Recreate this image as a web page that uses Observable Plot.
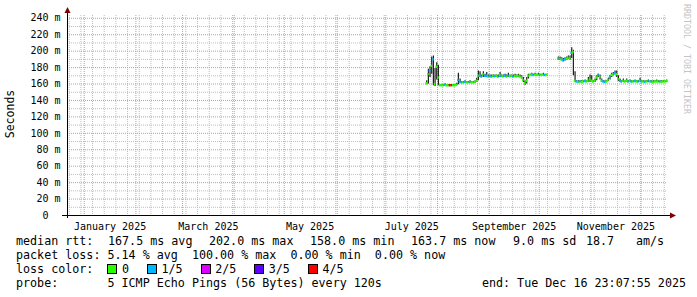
<!DOCTYPE html>
<html><head><meta charset="utf-8">
<script src="https://cdn.jsdelivr.net/npm/d3@7"></script>
<script src="https://cdn.jsdelivr.net/npm/@observablehq/plot@0.6"></script>
<style>
body{margin:0;background:#fff;}
#wrap{position:relative;width:697px;height:297px;overflow:hidden;font-family:"DejaVu Sans Mono",monospace;background:#fff;}
#chart{position:absolute;left:0;top:0;}
#ylab{position:absolute;left:10px;top:114px;transform:translate(-50%,-50%) rotate(-90deg);font-size:11.5px;white-space:nowrap;color:#000;}
#wm{position:absolute;left:682px;top:4px;writing-mode:vertical-rl;font-size:8.3px;color:#c4c4c4;white-space:nowrap;}
#legend{position:absolute;left:16px;top:234px;font-size:11.7px;line-height:14px;white-space:pre;color:#000;width:670px;}
.ln{position:relative;height:14px;}
.it{position:absolute;top:0;}
.box{display:inline-block;width:8px;height:8px;border:1px solid #000;vertical-align:-1px;margin-right:4.5px;}
.lt{margin-right:18px;}
#endt{position:absolute;right:0;top:0;}
</style></head><body><div id="wrap"><div id="chart"></div>
<div id="ylab">Seconds</div>
<div id="wm">RRDTOOL / TOBI OETIKER</div>
<div id="legend"></div>
</div>
<script>
// ---- data ----
const endTime = new Date("2025-12-16T23:07:55Z");
const spanDays = 360;
const yTicks = [0, 20, 40, 60, 80, 100, 120, 140, 160, 180, 200, 220, 240];
const yMinor = [10, 30, 50, 70, 90, 110, 130, 150, 170, 190, 210, 230];
const labelMonths = ["2025-01-01", "2025-03-01", "2025-05-01", "2025-07-01", "2025-09-01", "2025-11-01"];
const lossLabels = ["0", "1/5", "2/5", "3/5", "4/5"];
const lossColors = ["#26ff00", "#00b8ff", "#dd00ff", "#5e00ff", "#ff0000"];

// segment A: daily from 2025-07-25
const segAStart = "2025-07-25";
const segAMedian = [161,172,176,182,190,160,181,168,158.5,158.5,158.5,159,158.5,158.5,158.5,158.5,158.5,158.5,159,165,
  163,162,162,162.5,162,162,162.5,162,162,162.5,164,170,171,169,172,170,170,169,170,169,
  170,169.5,170,169,171,170,169.5,170,169,170,169.5,170,169,170,169.5,170,169,168,165,161,
  164,170,171,171.5,171,171.5,171,171.5,171,171,171.5,171,171];
const segALo = [159,160,168,172,158,157,165,158,157.5,157.5,157.5,158,157.5,157.5,157.5,157.5,157.5,157.5,158,159,
  161,161,161,161,161,161,161,161,161,161,162,164,168,168,168,168,168,168,168,168,
  168,168,168,168,168,168,168,168,168,168,168,168,168,168,168,168,168,166,162,158.5,
  160,166,170,170,170,170,170,170,170,170,170,170,170];
const segAHi = [164,178,181,193,194,179,186,183,159.5,159.5,159.5,160,159.5,159.5,159.5,159.5,159.5,159.5,161,173,
  166,163,163,164,163,163,164,163,163,164,167,176,175,171,175,172,174,171,171,171,
  171,171,171,171,174,171,171,172,171,173,171,171,171,172,171,172,171,170,168,164,
  168,172,172,173,172,173,172,173,172,172,173,172,172];
const segALoss = [0,0,1,0,1,0,0,0,0,0,0,1,0,0,4,4,0,0,0,1,
  1,1,0,1,0,0,1,0,0,0,0,0,1,1,0,1,1,0,1,1,
  0,1,0,1,0,1,0,1,0,1,0,0,1,0,0,0,0,0,0,0,
  0,0,0,0,1,0,0,0,1,0,0,1,0];

// segment B: daily from 2025-10-12
const segBStart = "2025-10-12";
const segBMedian = [191,191,190,189,190,191,192,191,198,199,164,163,162.5,163,162.5,163,163.5,163,164,166,
  164,163,164,168,171,169,164,163,162.5,163,165,168,171,172,173,172,166,164,163,164,
  163,164,163,163.5,163,163,163.5,163,163,164,163,163,162.5,163,163.5,163,163,162.5,163,163,
  163,163,162.5,163,163,163.5];
const segBLo = [189,189,188,187,188,189,190,189,191,170,162,162,161.5,162,161.5,162,162,162,162,162,
  162,162,162,164,168,165,162,162,161.5,162,163,165,168,170,171,168,163,162,162,162,
  162,162,162,162,162,162,162,162,162,162,162,162,161.5,162,162,162,162,161.5,162,162,
  162,162,161.5,162,162,162];
const segBHi = [193,193,192,191,192,193,194,194,204,201,175,164,164,164,164,164,165,164,168,171,
  170,164,166,170,172,171,166,164,164,164,167,170,173,174,176,176,170,166,164,166,
  164,166,164,165,164,164,165,164,164,167,164,164,164,164,165,164,164,164,164,165,
  164,164,164,164,164,165];
const segBLoss = [0,1,0,1,1,0,0,0,1,0,0,1,0,1,0,0,1,0,0,0,
  0,0,0,0,1,0,0,1,1,0,0,1,0,0,1,0,0,1,1,0,
  0,0,1,0,1,0,1,0,1,0,1,0,1,0,1,0,1,0,0,0,
  0,1,0,0,0,0];

// legend texts
const legendLine1 = ["median rtt:", "167.5 ms avg", "202.0 ms max", "158.0 ms min", "163.7 ms now", "9.0 ms sd", "18.7", "am/s"];
const legendLine1Pos = [0, 92, 193, 294, 395, 497, 570, 620];
const legendLine2 = "packet loss: 5.14 % avg  100.00 % max  0.00 % min  0.00 % now";
const legendLine3 = "loss color:  ";
const legendLine4 = "probe:       5 ICMP Echo Pings (56 Bytes) every 120s";
const legendEnd = "end: Tue Dec 16 23:07:55 2025";

// ---- build ----
function rows(start, med, lo, hi, loss) {
  const s = new Date(start + "T00:00:00Z");
  return med.map((m, i) => {
    const t0 = d3.utcDay.offset(s, i), t1 = d3.utcDay.offset(s, i + 1);
    return {t0, t1, tm: new Date((+t0 + +t1) / 2), med: m, lo: lo[i], hi: hi[i], loss: loss[i]};
  });
}
const data = rows(segAStart, segAMedian, segALo, segAHi, segALoss)
  .concat(rows(segBStart, segBMedian, segBLo, segBHi, segBLoss));

const startTime = d3.utcDay.offset(endTime, -spanDays);
const months = d3.utcMonth.range(startTime, endTime);
const weeks = d3.utcMonday.range(startTime, endTime);
const mids = labelMonths.map(s => { const a = new Date(s + "T00:00:00Z"); const b = d3.utcMonth.offset(a, 1); return new Date((+a + +b) / 2); });
const monthFmt = d3.utcFormat("%B %Y");
const labelByMid = new Map(mids.map((m, i) => [+m, monthFmt(new Date(labelMonths[i] + "T00:00:00Z"))]));

const minorStyle = {stroke: "#bdbdbd", strokeDasharray: "1,1"};
const majorStyle = {stroke: "#ee8a8a", strokeDasharray: "1,1"};

const plot = Plot.plot({
  width: 697, height: 232,
  marginLeft: 67, marginRight: 30, marginTop: 15, marginBottom: 17,
  style: {fontFamily: "'DejaVu Sans Mono', monospace", fontSize: "10px", color: "#000", background: "transparent", overflow: "visible"},
  x: {type: "utc", domain: [startTime, endTime]},
  y: {domain: [0, 243.4]},
  color: {type: "ordinal", domain: [0, 1, 2, 3, 4], range: lossColors},
  marks: [
    Plot.ruleX(weeks, minorStyle),
    Plot.ruleY(yMinor, minorStyle),
    Plot.ruleX(months, majorStyle),
    Plot.ruleY(yTicks.slice(1), majorStyle),
    Plot.ruleX(data, {x: "tm", y1: "lo", y2: "hi", stroke: "#202020", strokeWidth: 1.2}),
    Plot.ruleY(data, {x1: "t0", x2: "t1", y: "med", stroke: "loss", strokeWidth: 2.4}),
    Plot.axisY({ticks: yTicks, tickFormat: v => v === 0 ? "0\u00a0\u00a0" : v + " m", tickSize: 0, tickPadding: 7, label: null}),
    Plot.axisX({ticks: mids, tickFormat: d => labelByMid.get(+d), tickSize: 0, tickPadding: 7, label: null})
  ]
});
document.getElementById("chart").appendChild(plot);

// axis lines and arrows from the plot's scales
const sx = plot.scale("x"), sy = plot.scale("y");
const x0 = sx.range[0], x1 = sx.range[1], yb = sy.range[0], yt = sy.range[1];
const svg = d3.select(plot);
const g = svg.append("g");
g.append("line").attr("x1", x0 - 5).attr("x2", x1 + 5).attr("y1", yb + 0.5).attr("y2", yb + 0.5).attr("stroke", "#000");
g.append("line").attr("x1", x0 + 0.5).attr("x2", x0 + 0.5).attr("y1", yb + 3).attr("y2", yt - 4).attr("stroke", "#000");
g.append("path").attr("d", `M${x1 + 3},${yb - 2.5}L${x1 + 9},${yb + 0.5}L${x1 + 3},${yb + 3.5}Z`).attr("fill", "#7f0000");
g.append("path").attr("d", `M${x0 - 2.5},${yt - 2}L${x0 + 0.5},${yt - 8}L${x0 + 3.5},${yt - 2}Z`).attr("fill", "#7f0000");

// legend
const leg = document.getElementById("legend");
function line(html) { const d = document.createElement("div"); d.className = "ln"; d.innerHTML = html; leg.appendChild(d); return d; }
line(legendLine1.map((t, i) => `<span class="it" style="left:${legendLine1Pos[i]}px">${t}</span>`).join(""));
line(legendLine2);
line(legendLine3 + lossLabels.map((l, i) => `<span class="box" style="background:${lossColors[i]}"></span><span class="lt">${l}</span>`).join(""));
line(legendLine4 + `<span id="endt">${legendEnd}</span>`);
</script></body></html>
